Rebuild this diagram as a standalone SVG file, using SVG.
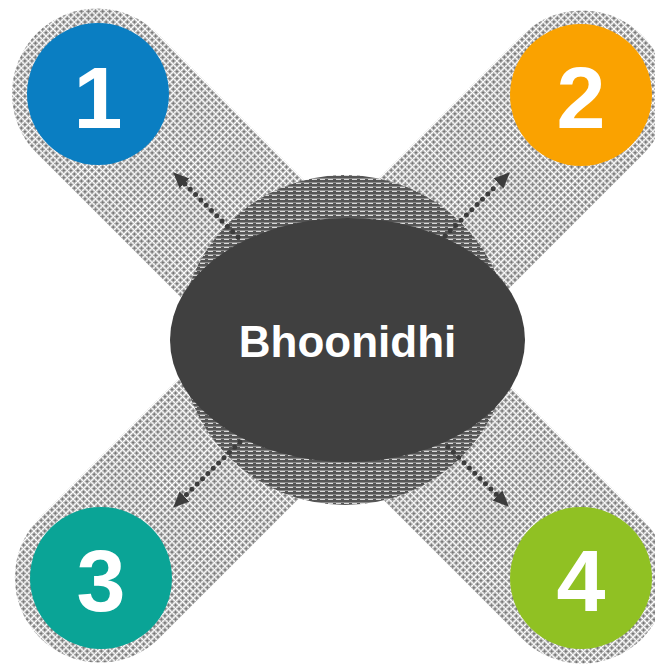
<svg xmlns="http://www.w3.org/2000/svg" width="655" height="665" viewBox="0 0 655 665">
<style>
.band{fill:url(#grid);}
.num{font-family:"Liberation Sans",Arial,sans-serif;font-weight:bold;font-size:88px;fill:#fff;text-anchor:middle;}
.title{font-family:"Liberation Sans",Arial,sans-serif;font-weight:bold;font-size:44px;fill:#fff;text-anchor:middle;}
.arrow{fill:none;stroke:#3c3c3c;stroke-width:5;stroke-linecap:round;stroke-dasharray:0 7.5;marker-end:url(#head);}
</style>
<defs>
<pattern id="grid" width="5" height="5" patternUnits="userSpaceOnUse">
<rect width="5" height="5" fill="#ffffff"/>
<rect x="1" y="1" width="4" height="4" fill="#bcbcbc"/>
<path d="M1.5 1.5L4.5 4.5M4.5 1.5L1.5 4.5" stroke="#707070" stroke-width="0.9"/>
</pattern>
<pattern id="hlines" width="8" height="4" patternUnits="userSpaceOnUse">
<rect width="8" height="4" fill="#555555"/>
<rect y="2" width="8" height="1" fill="#8c8c8c"/>
<rect y="3" width="5" height="1" fill="#dadada"/>
</pattern>
<marker id="head" markerUnits="userSpaceOnUse" markerWidth="18" markerHeight="16" refX="0" refY="7" orient="auto">
<path d="M0,0L16,7L0,14z" fill="#3c3c3c"/>
</marker>
</defs>
<g id="bands">
<rect class="band" x="-428" y="-85" width="856" height="170" rx="85" transform="translate(339.5,336) rotate(45)"/>
<rect class="band" x="-426" y="-85" width="852" height="170" rx="85" transform="translate(341,336.5) rotate(-45)"/>
</g>
<g id="halo">
<circle cx="345" cy="340" r="165" fill="url(#hlines)"/>
</g>
<g id="connectors">
<path class="arrow" d="M238,237L184.5,183.5"/>
<path class="arrow" d="M445,236L498.5,183.5"/>
<path class="arrow" d="M240,442L184.5,496.5"/>
<path class="arrow" d="M448,447L497.5,495.5"/>
</g>
<g id="center">
<ellipse cx="347.5" cy="340" rx="177.5" ry="122" fill="#404040"/>
<text class="title" x="347.5" y="357">Bhoonidhi</text>
</g>
<g id="node1">
<circle cx="98" cy="94" r="71" fill="#0a7ec2"/>
<text class="num" x="98" y="128">1</text>
</g>
<g id="node2">
<circle cx="581" cy="95" r="71" fill="#faa200"/>
<text class="num" x="581" y="128">2</text>
</g>
<g id="node3">
<circle cx="101" cy="578" r="71" fill="#0aa496"/>
<text class="num" x="101" y="611">3</text>
</g>
<g id="node4">
<circle cx="581" cy="578" r="71" fill="#90c123"/>
<text class="num" x="581" y="611">4</text>
</g>
</svg>
